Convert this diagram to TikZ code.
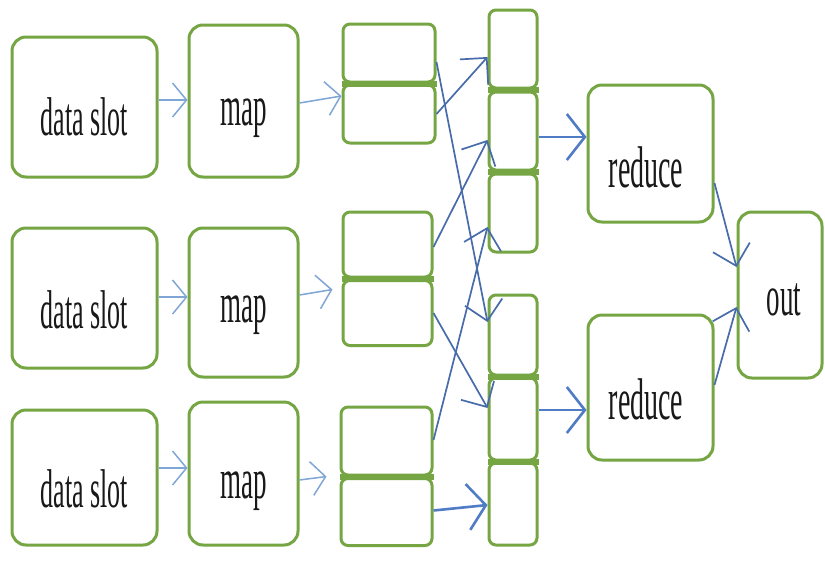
\documentclass[tikz,border=0pt]{standalone}
\usepackage{fontspec}
\usepackage{graphicx}
\setmainfont{Liberation Serif}
\usetikzlibrary{arrows.meta,calc}
\definecolor{boxgreen}{RGB}{118,166,68}
\definecolor{arrblue}{RGB}{72,108,170}
\definecolor{lightblue}{RGB}{128,166,214}
\definecolor{midblue}{RGB}{80,124,198}
\newcommand{\stxt}[2]{\scalebox{1}[2.1]{\fontsize{#1}{#1}\selectfont #2}}
\begin{document}
\begin{tikzpicture}[x=1pt,y=-1pt,
  box/.style={draw=boxgreen, line width=3pt, rounded corners=14pt, fill=white, inner sep=0pt},
  sbox/.style={draw=boxgreen, line width=3pt, rounded corners=7pt, fill=white, inner sep=0pt},
  bar/.style={draw=boxgreen, line width=6pt, line cap=butt},
  lbl/.style={inner sep=0pt, text=black!90},
  larr/.style={draw=lightblue, line width=1.5pt, -{Straight Barb[length=14pt,width=34pt]}},
  arr/.style={draw=arrblue, line width=1.7pt, -{Straight Barb[length=19pt,width=38pt]}},
  tarr/.style={draw=midblue, line width=2.6pt, -{Straight Barb[length=18pt,width=46pt]}}]
\useasboundingbox[fill=white] (0,0) rectangle (825,560);

% data slots
\node[box, minimum width=145pt, minimum height=140pt] (ds1) at (84.5,107) {};
\node[box, minimum width=145pt, minimum height=140pt] (ds2) at (84.5,298) {};
\node[box, minimum width=145pt, minimum height=135pt] (ds3) at (84.5,477.5) {};
\node[lbl] (ds1l) at (84.5,117) {\stxt{26pt}{data slot}};
\node[lbl] (ds2l) at (84.5,310) {\stxt{26pt}{data slot}};
\node[lbl] (ds3l) at (84.5,489) {\stxt{26pt}{data slot}};

% maps
\node[box, minimum width=109pt, minimum height=152pt] (map1) at (243.5,101) {};
\node[box, minimum width=109pt, minimum height=149pt] (map2) at (243.5,302.5) {};
\node[box, minimum width=109pt, minimum height=143pt] (map3) at (243.5,473.5) {};
\node[lbl] (map1l) at (243.5,118.5) {\stxt{27pt}{map}};
\node[lbl] (map2l) at (243.5,315) {\stxt{27pt}{map}};
\node[lbl] (map3l) at (243.5,491) {\stxt{27pt}{map}};

% split outputs
\node[sbox, minimum width=92pt, minimum height=58pt] (s1t) at (389,53) {};
\node[sbox, minimum width=92pt, minimum height=58pt] (s1b) at (389,114) {};
\node[sbox, minimum width=89pt, minimum height=65pt] (s2t) at (387.5,244.5) {};
\node[sbox, minimum width=89pt, minimum height=65pt] (s2b) at (387.5,313) {};
\node[sbox, minimum width=91pt, minimum height=68pt] (s3t) at (386.5,441) {};
\node[sbox, minimum width=91pt, minimum height=67pt] (s3b) at (386.5,512) {};

% reducer inputs
\node[sbox, minimum width=48pt, minimum height=78pt] (r1) at (513,49) {};
\node[sbox, minimum width=48pt, minimum height=78pt] (r2) at (513,131) {};
\node[sbox, minimum width=48pt, minimum height=78pt] (r3) at (513,213) {};
\node[sbox, minimum width=48pt, minimum height=80pt] (b1) at (513,335) {};
\node[sbox, minimum width=48pt, minimum height=82pt] (b2) at (513,419) {};
\node[sbox, minimum width=48pt, minimum height=82pt] (b3) at (513,504) {};

% thick joints between stacked boxes
\foreach \u/\l in {s1t/s1b, s2t/s2b, s3t/s3b, r1/r2, r2/r3, b1/b2, b2/b3}
  \draw[bar] ($(\u.south west)!.5!(\l.north west)$) -- ($(\u.south east)!.5!(\l.north east)$);

% reduce and out
\node[box, minimum width=125pt, minimum height=137pt] (red1) at (650.5,153.5) {};
\node[box, minimum width=125pt, minimum height=145pt] (red2) at (650.5,387.5) {};
\node[box, minimum width=84pt, minimum height=166pt] (out) at (780,295) {};
\node[lbl] (red1l) at (646,167) {\stxt{28pt}{reduce}};
\node[lbl] (red2l) at (646,399) {\stxt{28pt}{reduce}};
\node[lbl] (outl) at (784,300) {\stxt{27pt}{out}};

% data slot -> map
\draw[larr] ([yshift=7pt]ds1.east) -- ([yshift=1pt]map1.west);
\draw[larr] ([yshift=1pt]ds2.east) -- ([yshift=5.5pt]map2.west);
\draw[larr] ([yshift=9.5pt]ds3.east) -- ([yshift=5.5pt]map3.west);

% map -> split
\draw[larr] ([yshift=-2pt]map1.east) -- ([yshift=18pt]s1b.west);
\draw[larr] ([yshift=7.5pt]map2.east) -- ([xshift=-9pt,yshift=-11pt]s2t.south west);
\draw[larr] ([yshift=-6.5pt]map3.east) -- ([xshift=-13pt]s3t.south west);

% shuffle
\draw[arr] ([yshift=-9pt]s1t.east) -- ([yshift=13pt]b1.west);
\draw[arr] (s1b.east) -- ([yshift=-8pt]r1.west);
\draw[arr] ([yshift=-2.5pt]s2t.east) -- ([yshift=-9pt]r2.west);
\draw[arr] (s2b.east) -- ([yshift=11pt]b2.west);
\draw[arr] ([yshift=1pt]s3t.east) -- ([yshift=-14pt]r3.west);
\draw[tarr] ([yshift=1.5pt]s3b.east) -- ([yshift=-1pt]b3.west);

% to reduce
\draw[tarr] ([yshift=-6pt]r2.east) -- ([yshift=16.5pt]red1.west);
\draw[tarr] ([yshift=9pt]b2.east) -- ([yshift=-22.5pt]red2.west);

% to out
\draw[arr] ([yshift=-29.5pt]red1.east) -- ([yshift=28pt]out.west);
\draw[arr] ([yshift=2.5pt]red2.east) -- ([yshift=-12pt]out.west);
\end{tikzpicture}
\end{document}
